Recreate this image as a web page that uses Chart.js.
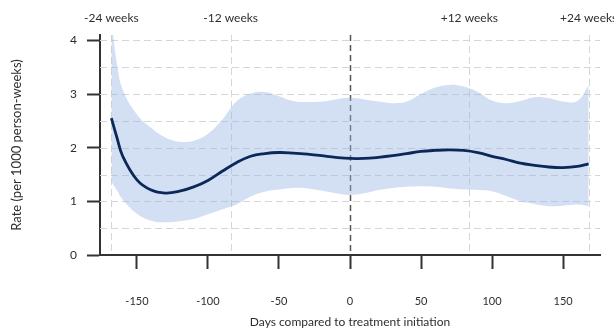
<!DOCTYPE html>
<html>
<head>
<meta charset="utf-8">
<script src="https://cdn.jsdelivr.net/npm/chart.js@4.4.1/dist/chart.umd.min.js"></script>
<style>
  html, body { margin: 0; padding: 0; background: #ffffff; }
  #wrap { width: 614px; height: 329px; }
</style>
</head>
<body>
<div id="wrap"><canvas id="c" width="614" height="329"></canvas></div>
<script>
// Days relative to treatment start (day 0)
const days = [-168, -164, -160, -150, -140, -130, -120, -110, -100, -90, -80, -70, -60, -50, -40, -30, -20, -10,
              0, 10, 20, 30, 40, 50, 60, 70, 80, 90, 100, 110, 120, 130, 140, 150, 160, 168];
// Estimated rate per 1000 person-weeks
const rate = [2.55, 2.18, 1.84, 1.40, 1.21, 1.155, 1.19, 1.27, 1.39, 1.56, 1.72, 1.84, 1.89, 1.91, 1.90, 1.88, 1.85, 1.82,
              1.80, 1.80, 1.82, 1.85, 1.89, 1.93, 1.95, 1.96, 1.95, 1.91, 1.84, 1.78, 1.71, 1.67, 1.64, 1.63, 1.65, 1.70];
// 95% confidence band
const upper = [4.4, 3.55, 3.08, 2.62, 2.37, 2.19, 2.11, 2.13, 2.26, 2.52, 2.86, 3.01, 3.04, 2.96, 2.87, 2.85, 2.86, 2.90,
               2.93, 2.90, 2.86, 2.83, 2.86, 3.00, 3.12, 3.17, 3.14, 3.04, 2.88, 2.83, 2.87, 2.94, 2.92, 2.86, 2.87, 3.16];
const lower = [1.37, 1.20, 1.03, 0.77, 0.64, 0.61, 0.63, 0.67, 0.76, 0.85, 0.94, 1.09, 1.18, 1.22, 1.25, 1.24, 1.20, 1.15,
               1.12, 1.15, 1.21, 1.25, 1.27, 1.28, 1.27, 1.24, 1.22, 1.21, 1.19, 1.10, 1.00, 0.95, 0.91, 0.92, 0.94, 0.91];

const xTicks = [-150, -100, -50, 0, 50, 100, 150];
const yTicks = [0, 1, 2, 3, 4];
const yGrid = [0.5, 1, 1.5, 2, 2.5, 3, 3.5, 4];
const weekDays = [-168, -84, 84, 168];
const weekLabels = ['-24 weeks', '-12 weeks', '+12 weeks', '+24 weeks'];
const startDay = 0;

const FONT = 'Lato, "Open Sans", sans-serif';
const TEXT = '#2e2e2e';
const AXIS = '#333333';

const pts = arr => days.map((d, i) => ({ x: d, y: arr[i] }));

// Dashed reference grid and week markers
const referenceLines = {
  id: 'referenceLines',
  beforeDatasetsDraw(chart) {
    const { ctx, chartArea: a, scales: { x, y } } = chart;
    ctx.save();
    ctx.lineWidth = 1;
    ctx.strokeStyle = '#d6d6d6';
    ctx.setLineDash([7, 4]);
    yGrid.forEach(v => {
      const py = Math.round(y.getPixelForValue(v)) + 0.5;
      ctx.beginPath(); ctx.moveTo(a.left, py); ctx.lineTo(a.right, py); ctx.stroke();
    });
    weekDays.forEach(d => {
      const px = Math.round(x.getPixelForValue(d)) + 0.5;
      ctx.beginPath(); ctx.moveTo(px, a.top); ctx.lineTo(px, a.bottom); ctx.stroke();
    });
    // treatment start
    const px0 = Math.round(x.getPixelForValue(startDay)) + 0.5;
    ctx.strokeStyle = '#555555';
    ctx.lineWidth = 1.5;
    ctx.setLineDash([6, 4]);
    ctx.beginPath(); ctx.moveTo(px0, a.top); ctx.lineTo(px0, a.bottom); ctx.stroke();
    ctx.restore();
  },
  afterDraw(chart) {
    const { ctx, scales: { x } } = chart;
    ctx.save();
    ctx.fillStyle = TEXT;
    ctx.font = '12px ' + FONT;
    ctx.textAlign = 'center';
    ctx.textBaseline = 'middle';
    weekDays.forEach((d, i) => ctx.fillText(weekLabels[i], x.getPixelForValue(d), 18));
    ctx.restore();
  }
};

new Chart(document.getElementById('c'), {
  type: 'line',
  data: {
    datasets: [
      { label: 'rate', data: pts(rate), borderColor: '#0c2859', borderWidth: 2.8, pointRadius: 0,
        tension: 0.4, fill: false, order: 0 },
      { label: 'upper', data: pts(upper), borderWidth: 0, pointRadius: 0, tension: 0.4,
        fill: '+1', backgroundColor: 'rgba(150, 182, 228, 0.42)', order: 1 },
      { label: 'lower', data: pts(lower), borderWidth: 0, pointRadius: 0, tension: 0.4, fill: false, order: 2 }
    ]
  },
  options: {
    responsive: false,
    animation: false,
    layout: { padding: { top: 35, right: 14, left: 0, bottom: 0 } },
    plugins: { legend: { display: false }, tooltip: { enabled: false } },
    scales: {
      x: {
        type: 'linear', min: -176, max: 176,
        afterBuildTicks: s => { s.ticks = xTicks.map(v => ({ value: v })); },
        afterFit: s => { s.height = 74; },
        grid: { drawOnChartArea: false, drawTicks: true, tickLength: 14, tickColor: AXIS, tickWidth: 2 },
        border: { display: true, color: AXIS, width: 2 },
        ticks: { padding: 26, maxRotation: 0, color: TEXT, font: { family: FONT, size: 11 } },
        title: { display: true, text: 'Days compared to treatment initiation', color: TEXT,
                 font: { family: FONT, size: 12 }, padding: { top: 0, bottom: 0 } }
      },
      y: {
        type: 'linear', min: 0, max: 4.1,
        afterBuildTicks: s => { s.ticks = yTicks.map(v => ({ value: v })); },
        afterFit: s => { s.width = 100; },
        grid: { drawOnChartArea: false, drawTicks: true, tickLength: 13, tickColor: AXIS, tickWidth: 2 },
        border: { display: true, color: AXIS, width: 2 },
        ticks: { padding: 10, color: TEXT, font: { family: FONT, size: 12 } },
        title: { display: true, text: 'Rate (per 1000 person-weeks)', color: TEXT,
                 font: { family: FONT, size: 13 }, padding: { top: 9, bottom: 0 } }
      }
    }
  },
  plugins: [referenceLines]
});
</script>
</body>
</html>
